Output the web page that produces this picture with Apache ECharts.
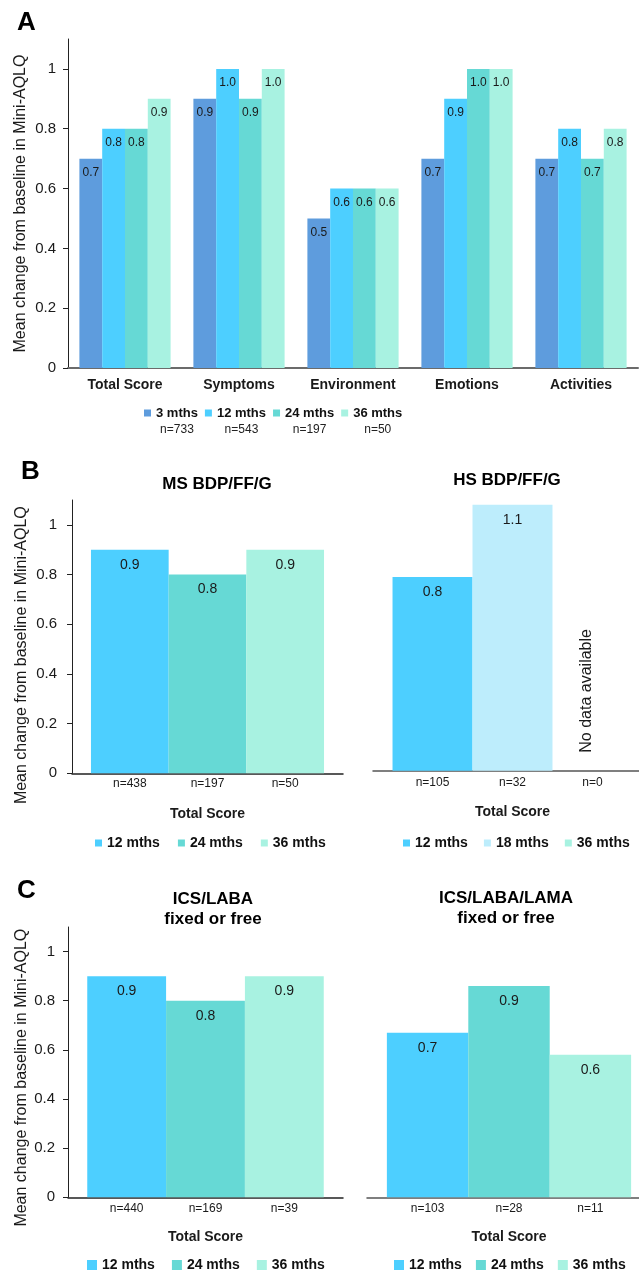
<!DOCTYPE html>
<html><head><meta charset="utf-8">
<script src="https://cdn.jsdelivr.net/npm/echarts@6/dist/echarts.min.js"></script>
<style>html,body{margin:0;padding:0;background:#fff}#c{width:639px;height:1272px}</style>
</head><body><div id="c"></div>
<script>
// ---------- DATA ----------
const domainCats = ['Total Score', 'Symptoms', 'Environment', 'Emotions', 'Activities'];
const periodsA = ['3 mths', '12 mths', '24 mths', '36 mths'];
const nA = ['n=733', 'n=543', 'n=197', 'n=50'];
const vals3m = [0.7, 0.9, 0.5, 0.7, 0.7];
const vals12m = [0.8, 1.0, 0.6, 0.9, 0.8];
const vals24m = [0.8, 0.9, 0.6, 1.0, 0.7];
const vals36m = [0.9, 1.0, 0.6, 1.0, 0.8];

const msPeriods = ['12 mths', '24 mths', '36 mths'];
const msVals = [0.9, 0.8, 0.9];
const msN = ['n=438', 'n=197', 'n=50'];

const hsPeriods = ['12 mths', '18 mths', '36 mths'];
const hsVals = [0.78, 1.07, null];
const hsN = ['n=105', 'n=32', 'n=0'];
const hsNote = 'No data available';

const dualPeriods = ['12 mths', '24 mths', '36 mths'];
const dualVals = [0.9, 0.8, 0.9];
const dualN = ['n=440', 'n=169', 'n=39'];

const triplePeriods = ['12 mths', '24 mths', '36 mths'];
const tripleVals = [0.67, 0.86, 0.58];
const tripleN = ['n=103', 'n=28', 'n=11'];

const yTicks = [0, 0.2, 0.4, 0.6, 0.8, 1];
const yName = 'Mean change from baseline in Mini-AQLQ';
const xName = 'Total Score';

// ---------- STYLE ----------
const FONT = "'Liberation Sans', Arial, sans-serif";
const COLORS = {'3 mths': '#5e9cdd', '12 mths': '#4dcfff', '18 mths': '#bdedfc', '24 mths': '#66d9d5', '36 mths': '#a8f2e1'};
const TXT = '#1a1a1a';

const chart = echarts.init(document.getElementById('c'), null, {renderer: 'canvas'});

const grids = [
  {left: 68, top: 39, width: 570, height: 329},
  {left: 72, top: 500, width: 271, height: 273.3},
  {left: 373, top: 497.4, width: 279, height: 273.3},
  {left: 68, top: 927, width: 275, height: 270.3},
  {left: 367, top: 927, width: 284, height: 270.3}
].map(g => Object.assign({outerBoundsMode: 'none', containLabel: false}, g));

function yAxisFor(gi, show, nameGap, fs, margin, shift) {
  return {
    type: 'value', gridIndex: gi, min: 0, max: 1.1, show: show,
    name: yName, nameLocation: 'middle', nameGap: nameGap, nameMoveOverlap: false,
    nameTextStyle: {fontSize: 16, color: TXT, fontFamily: FONT, padding: [0, shift, 0, 0]},
    axisLine: {show: true, lineStyle: {color: '#222', width: 1}},
    axisTick: {show: true, length: 5, customValues: yTicks, lineStyle: {color: '#222'}},
    axisLabel: {fontSize: fs, color: TXT, fontFamily: FONT, margin: margin, customValues: yTicks},
    splitLine: {show: false}
  };
}

const yAxes = [
  yAxisFor(0, true, 39, 15, 12, 0),
  yAxisFor(1, true, 42.5, 15, 15, 37),
  yAxisFor(2, false, 42.5, 15, 15, 0),
  yAxisFor(3, true, 38.5, 15, 13, 31),
  yAxisFor(4, false, 38.5, 15, 13, 0)
];

function xAxisFor(gi, lineColor, nameGap) {
  return {
    type: 'category', gridIndex: gi, data: [xName],
    name: xName, nameLocation: 'middle', nameGap: nameGap,
    nameTextStyle: {fontSize: 14, fontWeight: 'bold', color: TXT, fontFamily: FONT},
    axisLine: {show: true, lineStyle: {color: lineColor, width: 1.5}},
    axisTick: {show: false}, axisLabel: {show: false}
  };
}

const xAxes = [
  {
    type: 'category', gridIndex: 0, data: domainCats,
    axisLine: {show: true, lineStyle: {color: '#6b6b6b', width: 2}},
    axisTick: {show: false},
    axisLabel: {fontSize: 14, fontWeight: 'bold', color: TXT, fontFamily: FONT, margin: 10}
  },
  xAxisFor(1, '#222', 34),
  xAxisFor(2, '#555', 34),
  xAxisFor(3, '#222', 33),
  xAxisFor(4, '#555', 33)
];

const series = [];
const seriesA = [vals3m, vals12m, vals24m, vals36m];
periodsA.forEach((p, i) => {
  series.push({
    type: 'bar', name: p, xAxisIndex: 0, yAxisIndex: 0, data: seriesA[i],
    barGap: '0%', barCategoryGap: '20%',
    itemStyle: {color: COLORS[p]},
    emphasis: {disabled: true},
    label: {show: true, position: 'insideTop', distance: 8, fontSize: 12, color: TXT, fontFamily: FONT,
      formatter: d => d.value.toFixed(1)}
  });
});

function addPanel(gi, periods, vals, ns, nDist, note) {
  periods.forEach((p, i) => {
    const stack = 'g' + gi + 's' + i;
    series.push({
      type: 'bar', name: 'n_' + gi + '_' + i, xAxisIndex: gi, yAxisIndex: gi, stack: stack,
      data: [0], barGap: '0%', barCategoryGap: '14%', silent: true,
      itemStyle: {color: 'rgba(0,0,0,0)'}, emphasis: {disabled: true},
      label: {show: true, position: 'bottom', distance: nDist, fontSize: 12, color: TXT, fontFamily: FONT,
        formatter: ns[i]}
    });
    if (note && vals[i] == null) {
      series.push({
        type: 'bar', name: 'note_' + gi, xAxisIndex: gi, yAxisIndex: gi, stack: stack,
        data: [0], barGap: '0%', barCategoryGap: '14%', silent: true,
        itemStyle: {color: 'rgba(0,0,0,0)'}, emphasis: {disabled: true},
        label: {show: true, position: 'top', distance: 18, rotate: 90, align: 'left', verticalAlign: 'middle',
          offset: [0, -6], fontSize: 16, color: TXT, fontFamily: FONT, formatter: note}
      });
    }
    series.push({
      type: 'bar', name: p, xAxisIndex: gi, yAxisIndex: gi, stack: stack,
      data: [vals[i] == null ? '-' : vals[i]], barGap: '0%', barCategoryGap: '14%',
      itemStyle: {color: COLORS[p]}, emphasis: {disabled: true},
      label: {show: true, position: 'insideTop', distance: 8, fontSize: 14, color: TXT, fontFamily: FONT,
        formatter: d => (+d.value).toFixed(1)}
    });
  });
}
addPanel(1, msPeriods, msVals, msN, 4);
addPanel(2, hsPeriods, hsVals, hsN, 6, hsNote);
addPanel(3, dualPeriods, dualVals, dualN, 5);
addPanel(4, triplePeriods, tripleVals, tripleN, 5);

function panelTitle(text, x, y, size) {
  return {text: text, left: x, top: y, padding: 0, textAlign: 'center',
    textStyle: {fontSize: size, fontWeight: 'bold', color: '#000', fontFamily: FONT, lineHeight: 20}};
}
const titles = [
  {text: 'A', left: 17, top: 10, padding: 0, textStyle: {fontSize: 26, fontWeight: 'bold', color: '#000', fontFamily: FONT}},
  {text: 'B', left: 21, top: 459, padding: 0, textStyle: {fontSize: 26, fontWeight: 'bold', color: '#000', fontFamily: FONT}},
  {text: 'C', left: 17, top: 878, padding: 0, textStyle: {fontSize: 26, fontWeight: 'bold', color: '#000', fontFamily: FONT}},
  panelTitle('MS BDP/FF/G', 217, 474, 17),
  panelTitle('HS BDP/FF/G', 507, 470, 17),
  panelTitle('ICS/LABA\nfixed or free', 213, 889, 17),
  panelTitle('ICS/LABA/LAMA\nfixed or free', 506, 888, 17)
];

function smallLegend(names, left, top, size, fs, gap) {
  return {data: names, left: left, top: top, padding: 0, icon: 'rect', orient: 'horizontal',
    itemWidth: size, itemHeight: size, itemGap: gap, itemStyle: {borderWidth: 0}, selectedMode: false,
    textStyle: {fontSize: fs, fontWeight: 'bold', color: '#111', fontFamily: FONT}};
}
const legends = [
  {data: periodsA, left: 144, top: 406.5, padding: 0, icon: 'rect', itemWidth: 7, itemHeight: 7, itemGap: 7,
    selectedMode: false, itemStyle: {borderWidth: 0},
    formatter: name => '{a|' + name + '}\n{b|' + nA[periodsA.indexOf(name)] + '}',
    textStyle: {padding: [17, 0, 0, 0], fontFamily: FONT,
      rich: {a: {fontSize: 13, fontWeight: 'bold', lineHeight: 17, color: '#111', fontFamily: FONT},
             b: {fontSize: 12, lineHeight: 17, align: 'center', color: '#222', fontFamily: FONT}}}},
  smallLegend(msPeriods, 95, 836, 7, 14, 18),
  smallLegend(hsPeriods, 403, 836, 7, 14, 16),
  smallLegend(dualPeriods, 87, 1258, 10, 14, 17),
  smallLegend(triplePeriods, 394, 1258, 10, 14, 14)
];

chart.setOption({
  animation: false,
  backgroundColor: '#fff',
  textStyle: {fontFamily: FONT},
  title: titles,
  legend: legends,
  grid: grids,
  xAxis: xAxes,
  yAxis: yAxes,
  series: series
});
</script></body></html>
